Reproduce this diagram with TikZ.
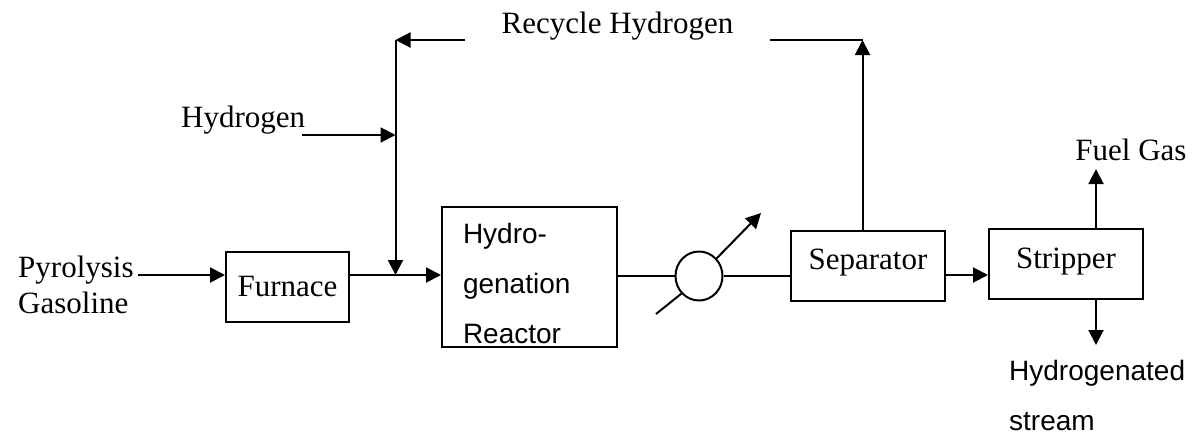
\documentclass[tikz,border=0pt]{standalone}
\usepackage{fontspec}
\setmainfont{Liberation Serif}
\newfontfamily\arialfont{Liberation Sans}
\usetikzlibrary{arrows.meta,shapes.geometric}
\tikzset{
  serifnode/.style={font=\fontsize{31}{36}\selectfont, inner sep=0pt},
  sansnode/.style={font=\arialfont\fontsize{28}{50}\selectfont, inner sep=0pt},
  unitbox/.style={draw=black, line width=2pt, inner sep=0pt, anchor=center},
  flow/.style={draw=black, line width=2pt, -{Triangle[length=15pt,width=15pt]}},
  pipe/.style={draw=black, line width=2pt},
}
\begin{document}
\begin{tikzpicture}[x=1pt,y=-1pt]
\useasboundingbox (0,0) rectangle (1194,440);
% units
\node[unitbox, serifnode, minimum width=123pt, minimum height=70pt, text height=20pt, text depth=0.6pt] (furnace) at (287.5,287) {Furnace};
\node[unitbox, sansnode, minimum width=175pt, minimum height=140pt, align=left, text width=133pt, text height=32pt, text depth=100pt] (reactor) at (529.5,277) {Hydro-\\genation\\Reactor};
\node[unitbox, serifnode, minimum width=154pt, minimum height=70pt, text height=20pt, text depth=13.4pt] (separator) at (868,266) {Separator};
\node[unitbox, serifnode, minimum width=154pt, minimum height=70pt, text height=20pt, text depth=10.6pt] (stripper) at (1066,264) {Stripper};
\node[draw=black, line width=2pt, ellipse, minimum width=47pt, minimum height=49pt, inner sep=0pt] (hx) at (699,276) {};
% labels
\node[serifnode, align=left, anchor=base west] (pyro) at (18,313) {Pyrolysis\\Gasoline};
\node[serifnode, anchor=base west] (h2) at (181,127) {Hydrogen};
\node[serifnode, anchor=base] (recycle) at (617.5,33) {Recycle Hydrogen};
\node[serifnode, anchor=base] (fuel) at (1131,160) {Fuel Gas};
\node[sansnode, align=left, anchor=base west] (product) at (1009,430) {Hydrogenated\\stream};
% named points
\coordinate (feedstart) at (138,275);
\coordinate (furnout) at (furnace.east |- feedstart);
\coordinate (mix) at (395.5,275);
\coordinate (corner) at (395.5,40);
\coordinate (h2start) at (302,135);
\coordinate (h2join) at (395.5,135);
\coordinate (recL) at (465,40);
\coordinate (recR) at (770,40);
\coordinate (sepcorner) at (862.5,40);
\coordinate (hxlow) at (656,314);
\coordinate (hxhigh) at (761,213);
\coordinate (fueltip) at (1096,169);
\coordinate (prodtip) at (1096,345);
\coordinate (sepline) at (0,275);
% connectors
\draw[flow] (feedstart) -- (furnace.west |- feedstart);
\draw[flow] (furnout) -- (reactor.west |- feedstart);
\draw[flow] (corner) -- (mix);
\draw[flow] (recL) -- (corner);
\draw[flow] (h2start) -- (h2join);
\draw[pipe] (recR) -- (sepcorner);
\draw[flow] (separator.north -| sepcorner) -- (sepcorner);
\draw[pipe] (reactor.east |- hx.west) -- (hx.west);
\draw[pipe] (hx.east) -- (separator.west |- hx.east);
\draw[pipe] (hxlow) -- (hx.225);
\draw[flow] (hx.45) -- (hxhigh);
\draw[flow] (separator.east |- sepline) -- (stripper.west |- sepline);
\draw[flow] (stripper.north -| fueltip) -- (fueltip);
\draw[flow] (stripper.south -| prodtip) -- (prodtip);
\end{tikzpicture}
\end{document}
